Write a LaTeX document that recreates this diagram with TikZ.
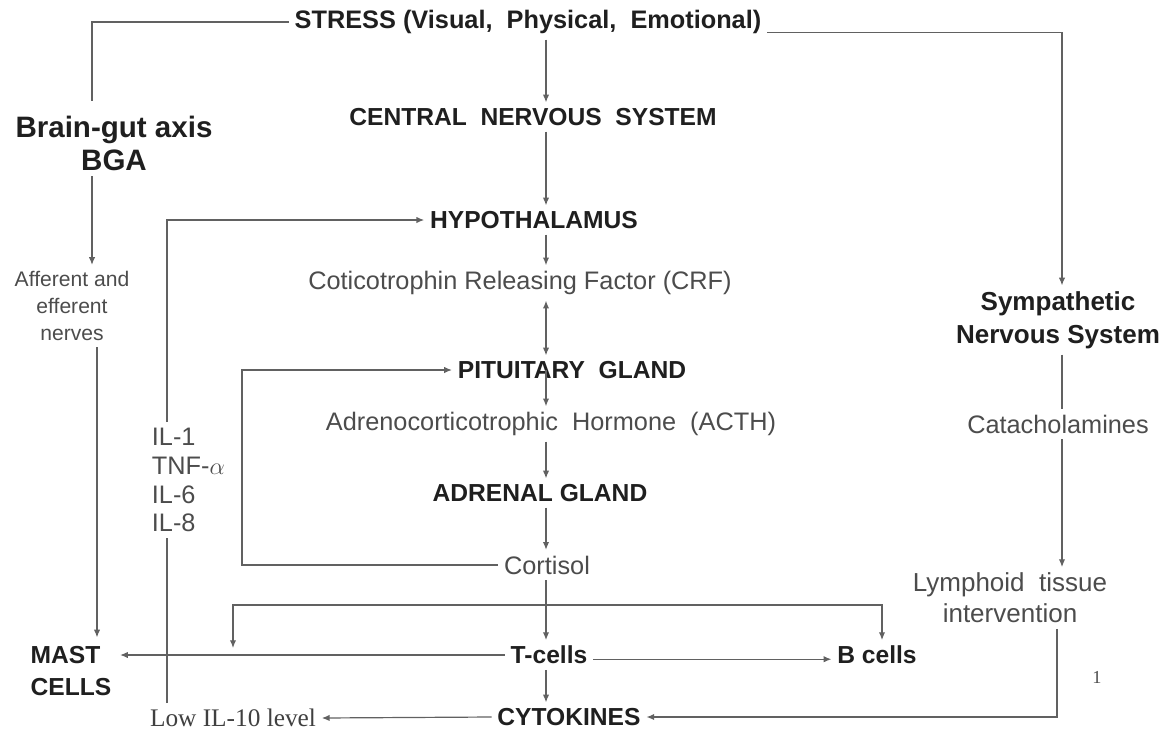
\documentclass[tikz,border=0pt]{standalone}
\usepackage{fontspec}
\setmainfont{Liberation Sans}
\newfontfamily\timesfont{Liberation Serif}
\usetikzlibrary{arrows.meta}

\begin{document}
\begin{tikzpicture}[x=0.025cm,y=-0.025cm,>={Latex[length=5.5pt,width=4.5pt]}]
    \tikzstyle{head}=[font=\fontsize{17.5}{23}\selectfont\bfseries,text=black!88,inner sep=4pt]
    \tikzstyle{plain}=[font=\fontsize{18}{21}\selectfont,text=black!70,inner sep=4pt]
    \tikzstyle{link}=[draw=black!62,line width=0.85pt]
    \useasboundingbox (0,0) rectangle (1164,732);
    % vertical buses
    \coordinate (spine) at (546,0);
    \coordinate (leftbus) at (92,0);
    \coordinate (mastbus) at (97,0);
    \coordinate (ilbus) at (167,0);
    \coordinate (loopbus) at (242,0);
    \coordinate (rightbus) at (1062,0);
    \coordinate (lymphbus) at (1057,0);
    % central axis
    \node[head,font=\fontsize{18}{23}\selectfont\bfseries] (stress) at (528,22) {STRESS (Visual,\ \ Physical,\ \ Emotional)};
    \node[head] (cns) at (533,117) {CENTRAL\ \ NERVOUS\ \ SYSTEM};
    \node[head] (hypo) at (534,220) {HYPOTHALAMUS};
    \node[plain] (crf) at (520,283) {Coticotrophin Releasing Factor (CRF)};
    \node[head] (pit) at (572,370) {PITUITARY\ \ GLAND};
    \node[plain] (acth) at (551,424) {Adrenocorticotrophic\ \ Hormone\ \ (ACTH)};
    \node[head] (adr) at (540,493) {ADRENAL GLAND};
    \node[plain] (cort) at (547,565) {Cortisol};
    \node[head] (tcell) at (549,655) {T-cells};
    \node[head] (bcell) at (877,655) {B cells};
    \node[head] (cyto) at (569,717) {CYTOKINES};
    \node[plain,font=\fontsize{18}{21}\selectfont\timesfont,text=black!75] (lowil) at (233,718) {Low IL-10 level};
    % left side
    \node[head,font=\fontsize{21}{23.5}\selectfont\bfseries,align=center] (bga) at (114,143) {Brain-gut axis\\BGA};
    \node[plain,font=\fontsize{15}{19.5}\selectfont,align=center] (aff) at (72,306) {Afferent and\\efferent\\nerves};
    \node[head,align=left,anchor=west,inner sep=6pt] (mast) at (22,671) {MAST\\CELLS};
    \node[plain,align=left,anchor=west,font=\fontsize{18}{20.5}\selectfont] (il) at (146,480) {IL-1\\TNF-$\alpha$\\IL-6\\IL-8};
    % right side
    \node[head,align=center,font=\fontsize{18.5}{23.5}\selectfont\bfseries] (symp) at (1058,320) {Sympathetic\\Nervous System};
    \node[plain] (cat) at (1058,424) {Catacholamines};
    \node[plain,align=center,font=\fontsize{18.5}{22}\selectfont] (lymph) at (1010,598) {Lymphoid\ \ tissue\\intervention};
    \node[plain,font=\fontsize{13}{15}\selectfont\timesfont] (page) at (1097,677) {1};
    % spine arrows
    \draw[link,->] (stress.south -| spine) -- (cns.north -| spine);
    \draw[link,->] (cns.south -| spine) -- (hypo.north -| spine);
    \draw[link,->] (hypo.south -| spine) -- (crf.north -| spine);
    \draw[link,<->] (crf.south -| spine) -- (pit.north -| spine);
    \draw[link,->] (pit.center -| spine) -- (acth.north -| spine);
    \draw[link,->] (acth.south -| spine) -- (adr.north -| spine);
    \draw[link,->] (adr.south -| spine) -- (cort.north -| spine);
    \draw[link,->] (cort.south -| spine) -- (tcell.north -| spine);
    \draw[link,->] (tcell.south -| spine) -- (cyto.north -| spine);
    % stress branches
    \draw[link] (stress.west) -| ([yshift=6pt]bga.north -| leftbus);
    \draw[link,->] ([yshift=-7.5pt]stress.east) -| (symp.north -| rightbus);
    % brain-gut axis
    \draw[link,->] (bga.south -| leftbus) -- (aff.north -| leftbus);
    \draw[link,->] (aff.south -| mastbus) -- (mast.north -| mastbus);
    % feedback loops
    \draw[link,->] (cort.west) -- (cort.west -| loopbus) |- (pit.west);
    \draw[link,->] (il.north -| ilbus) |- (hypo.west);
    \draw[link] (lowil.north -| ilbus) -- (il.south -| ilbus);
    % cortisol to lymphocytes
    \coordinate (split) at (546,605);
    \draw[link,->] (split) -| (233,648);
    \draw[link,->] (split) -| (bcell.north -| 882,0);
    \draw[link,->] (tcell.west) -- (tcell.west -| mast.east);
    \draw[link,->] ([yshift=-3pt]tcell.east) -- ([yshift=-3pt]tcell.east -| bcell.west);
    % sympathetic branch
    \draw[link] (symp.south -| rightbus) -- (cat.north -| rightbus);
    \draw[link,->] (cat.south -| rightbus) -- (lymph.north -| rightbus);
    \draw[link,->] (lymph.south -| lymphbus) |- (cyto.east);
    \draw[link,->] (cyto.west) -- (lowil.east);
\end{tikzpicture}
\end{document}
